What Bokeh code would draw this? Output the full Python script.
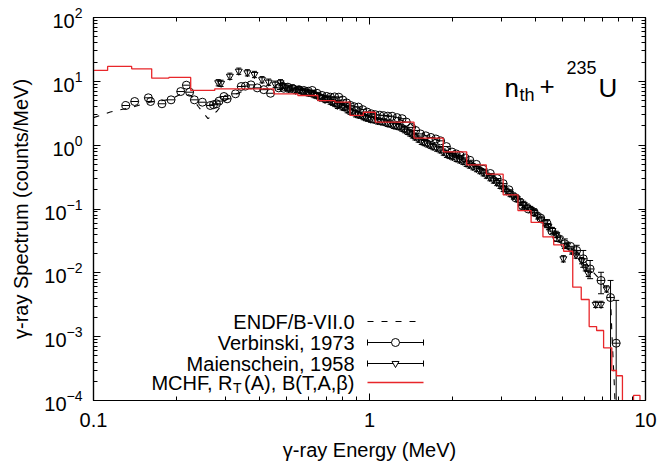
import numpy as np
from bokeh.plotting import figure
from bokeh.models import (Range1d, LinearScale, LogAxis, FixedTicker, Label,
                          CustomJSTickFormatter, LogTickFormatter)
from bokeh.embed import file_html
from bokeh.resources import INLINE

# ---------------- data ----------------
mchf_edges = [0.1, 0.1125, 0.1375, 0.1625, 0.1875, 0.225, 0.275, 0.45, 0.55, 0.65,
              0.75, 0.85, 0.95, 1.05, 1.45, 1.85, 2.25, 2.65, 3.05, 3.45,
              3.85, 4.25, 4.65, 5.05, 5.45, 5.85, 6.25, 6.65, 7.05, 7.55,
              7.85, 8.25, 9.05, 9.55, 10.0]
mchf_vals = [14.8, 17.1, 15.7, 11.2, 11.5, 7.2, 7.63, 6.38, 6.0, 5.0,
             4.71, 2.92, 3.28, 2.29, 1.29, 0.787, 0.49, 0.351, 0.167, 0.0946,
             0.0616, 0.0365, 0.0274, 0.0218, 0.00596, 0.00382, 0.00144, 0.00125, 0.000668, 0.000295,
             0.000244, 0.0, 0.00012, 0.0]

endf_E = [0.1, 0.115, 0.14, 0.16, 0.19, 0.21, 0.225, 0.24, 0.26, 0.28, 0.30, 0.33, 0.37,
          0.45, 0.55, 0.65, 0.75, 0.85, 1.0, 1.2, 1.4, 1.6, 1.8, 2.0, 2.3, 2.6, 2.9,
          3.2, 3.6, 4.0, 4.4, 4.8, 5.1, 5.6, 6.0, 6.3, 6.9, 7.47, 7.55, 7.7, 7.8]
endf_y = [2.7, 3.3, 4.0, 4.7, 5.2, 6.5, 6.0, 4.0, 2.6, 3.4, 5.0, 6.4, 7.8,
          7.5, 7.3, 6.3, 5.6, 4.3, 3.3, 2.8, 2.2, 1.4, 1.15, 0.8, 0.58, 0.42, 0.30,
          0.20, 0.113, 0.080, 0.058, 0.036, 0.029, 0.022, 0.016, 0.0115, 0.0076, 0.0041, 0.0012, 0.0002, 0.00005]

verb_E = [0.131, 0.141, 0.158, 0.161, 0.177, 0.191, 0.207, 0.217, 0.223, 0.232,
          0.248, 0.265, 0.272, 0.279, 0.285, 0.297, 0.305, 0.327, 0.343, 0.355,
          0.372, 0.392, 0.414, 0.438, 0.469, 0.489, 0.506, 0.53, 0.555, 0.578,
          0.60, 0.62, 0.645, 0.673, 0.70, 0.722, 0.748, 0.774, 0.80, 0.826,
          0.852, 0.88, 0.912, 0.945, 0.98, 1.015, 1.05, 1.09, 1.126, 1.165,
          1.208, 1.26, 1.313, 1.36, 1.42, 1.47, 1.53, 1.60, 1.67, 1.74,
          1.81, 1.90, 1.99, 2.06, 2.13, 2.22, 2.31, 2.44, 2.58, 2.74,
          2.90, 3.05, 3.20, 3.38, 3.58, 3.76, 3.95, 4.17, 4.40, 4.58,
          4.77, 5.10, 5.35, 5.63, 5.95, 6.30, 6.90, 7.47, 7.83]
verb_y = [4.18, 4.83, 5.52, 4.83, 4.45, 5.13, 6.92, 8.7, 6.76, 5.13,
          4.71, 4.18, 4.3, 4.45, 4.9, 5.78, 5.32, 6.38, 8.3, 8.4,
          8.8, 7.9, 7.4, 6.5, 7.9, 7.8, 8.1, 7.6, 7.4, 7.2,
          7.0, 7.2, 6.5, 6.0, 5.8, 5.65, 5.7, 5.65, 5.1, 4.6,
          4.2, 4.0, 3.95, 3.6, 3.3, 3.1, 3.0, 2.95, 2.9, 2.85,
          2.84, 2.7, 2.6, 2.3, 1.9, 1.7, 1.5, 1.4, 1.32, 1.25,
          1.17, 0.95, 0.78, 0.73, 0.69, 0.63, 0.58, 0.50, 0.42, 0.36,
          0.30, 0.25, 0.20, 0.15, 0.113, 0.10, 0.089, 0.072, 0.059, 0.045,
          0.036, 0.0285, 0.026, 0.0224, 0.0166, 0.0115, 0.0076, 0.0041, 0.00079]

verb_bar_E = [3.58, 3.95, 4.40, 4.77, 5.10, 5.63, 5.95, 6.30, 6.90, 7.47, 7.83]
verb_bar_lo = [0.100, 0.079, 0.051, 0.031, 0.024, 0.019, 0.0122, 0.0081, 0.0047, 0.0, 0.0]
verb_bar_hi = [0.127, 0.100, 0.068, 0.042, 0.034, 0.027, 0.0224, 0.0156, 0.0102, 0.0076, 0.0037]

maien_E = [0.283, 0.290, 0.312, 0.336, 0.361, 0.383, 0.408, 0.431, 0.455, 0.476, 0.483, 0.497,
           0.51, 0.525, 0.54, 0.555, 0.57, 0.585, 0.60, 0.615, 0.63, 0.645, 0.66, 0.675,
           0.69, 0.705, 0.72, 0.735, 0.75, 0.765, 0.78, 0.795, 0.81, 0.83, 0.85, 0.87,
           0.89, 0.91, 0.93, 0.95, 0.97, 0.99, 1.01, 1.04, 1.07, 1.10, 1.13, 1.16,
           1.19, 1.22, 1.25, 1.28, 1.31, 1.34, 1.37, 1.40, 1.43, 1.46, 1.50, 1.54,
           1.58, 1.62, 1.66, 1.70, 1.75, 1.80, 1.85, 1.90, 1.95, 2.00, 2.06, 2.12,
           2.18, 2.24, 2.30, 2.37, 2.44, 2.51, 2.58, 2.65, 2.73, 2.81, 2.89, 2.97,
           3.05, 3.14, 3.23, 3.32, 3.42, 3.52, 3.62, 3.73, 3.84, 3.95, 4.07, 4.19,
           4.32, 4.45, 4.60, 4.75, 4.90, 5.04, 5.20, 5.40, 5.60, 5.87, 6.05, 6.20,
           6.60, 6.90, 7.23]
maien_y = [9.5, 9.3, 12.0, 14.4, 13.6, 12.8, 10.6, 9.7, 9.0, 9.5, 8.6, 8.1,
           7.6, 7.9, 7.2, 7.4, 6.9, 7.0, 6.6, 6.5, 6.2, 6.0, 5.6, 5.5,
           5.2, 5.3, 4.9, 4.7, 4.5, 4.2, 4.4, 4.0, 3.9, 3.6, 3.4, 3.3,
           3.1, 3.0, 2.95, 2.8, 2.7, 2.65, 2.55, 2.5, 2.4, 2.35, 2.3, 2.2,
           2.15, 2.05, 2.0, 1.95, 1.85, 1.75, 1.65, 1.55, 1.45, 1.35, 1.25, 1.15,
           1.1, 1.05, 1.0, 0.95, 0.9, 0.85, 0.78, 0.72, 0.69, 0.66, 0.62, 0.59,
           0.56, 0.52, 0.49, 0.46, 0.43, 0.40, 0.37, 0.34, 0.31, 0.285, 0.26, 0.235,
           0.21, 0.19, 0.175, 0.16, 0.145, 0.13, 0.118, 0.107, 0.098, 0.088, 0.078, 0.069,
           0.061, 0.053, 0.046, 0.040, 0.034, 0.0166, 0.027, 0.022, 0.019, 0.0155, 0.012, 0.0098,
           0.0032, 0.0032, 0.0056]
maien_rel_err = 1.12

x_major = [0.1, 1, 10]
y_major_exp = [-4, -3, -2, -1, 0, 1, 2]

# ---------------- layout ----------------
FONT = "Liberation Sans"
W, H = 659, 467
FL, FT, FW, FH = 93, 17, 552, 383
BR, BB = W - FL - FW, H - FT - FH
TINY = 1e-9

p = figure(x_axis_type="log", y_axis_type="log",
           x_range=Range1d(0.1, 10), y_range=Range1d(1e-4, 1e2),
           frame_width=FW, frame_height=FH,
           min_border_left=FL, min_border_top=FT, min_border_right=BR, min_border_bottom=BB,
           output_backend="svg", toolbar_location=None)
p.grid.visible = False
p.outline_line_color = "black"
p.outline_line_width = 1.2
p.background_fill_color = "white"
p.border_fill_color = "white"

p.extra_x_ranges = {"px": Range1d(0, FW)}
p.extra_y_ranges = {"px": Range1d(0, FH)}
p.extra_x_scales = {"px": LinearScale()}
p.extra_y_scales = {"px": LinearScale()}

xt = FixedTicker(ticks=x_major,
                 minor_ticks=[m * 10.0 ** d for d in (-1, 0) for m in range(2, 10)])
yt = FixedTicker(ticks=[10.0 ** k for k in y_major_exp],
                 minor_ticks=[m * 10.0 ** d for d in range(-4, 2) for m in range(2, 10)])

bx = p.below[0]
ly = p.left[0]
bx.ticker = xt
ly.ticker = yt
bx.formatter = CustomJSTickFormatter(code="return tick.toString();")
ly.formatter = LogTickFormatter()
top = LogAxis(ticker=xt)
rgt = LogAxis(ticker=yt)
p.add_layout(top, "above")
p.add_layout(rgt, "right")
for ax in (bx, ly, top, rgt):
    ax.major_tick_in = 7
    ax.major_tick_out = 0
    ax.minor_tick_in = 4
    ax.minor_tick_out = 0
    ax.axis_line_color = "black"
    ax.major_tick_line_color = "black"
    ax.minor_tick_line_color = "black"
    ax.axis_line_width = 1.2
    ax.major_label_text_font = FONT
    ax.major_label_text_color = "black"
for ax in (top, rgt):
    ax.major_label_text_font_size = "1px"
    ax.major_label_text_alpha = 0.0
    ax.major_label_standoff = 0
for ax in (bx, ly):
    ax.major_label_text_font_size = "20px"
    ax.axis_label_text_font = FONT
    ax.axis_label_text_font_size = "20px"
    ax.axis_label_text_font_style = "normal"
    ax.axis_label_text_color = "black"
bx.major_label_standoff = 12
bx.axis_label = "γ-ray Energy (MeV)"
bx.axis_label_standoff = 9
ly.major_label_standoff = 11
ly.axis_label = "γ-ray Spectrum (counts/MeV)"
ly.axis_label_standoff = 9

# ---------------- data marks ----------------
p.line(endf_E, endf_y, line_color="black", line_dash="6 8", line_width=1.1)

vlo = [v if v > 0 else TINY for v in verb_bar_lo]
p.segment(x0=verb_bar_E, y0=vlo, x1=verb_bar_E, y1=verb_bar_hi, line_color="black", line_width=1)
p.scatter(verb_bar_E, vlo, marker="dash", size=6, line_color="black", line_width=1)
p.scatter(verb_bar_E, verb_bar_hi, marker="dash", size=6, line_color="black", line_width=1)
p.scatter(verb_E, verb_y, marker="dash", size=8, line_color="black", line_width=1)
p.scatter(verb_E, verb_y, marker="circle", size=8, line_color="black", fill_color=None, line_width=1)

m_lo = [v / maien_rel_err for v in maien_y]
m_hi = [v * maien_rel_err for v in maien_y]
p.segment(x0=maien_E, y0=m_lo, x1=maien_E, y1=m_hi, line_color="black", line_width=1)
p.scatter(maien_E, m_hi, marker="dash", size=5, line_color="black", line_width=1)
p.scatter(maien_E, m_lo, marker="dash", size=5, line_color="black", line_width=1)
p.scatter(maien_E, maien_y, marker="inverted_triangle", size=7, line_color="black",
          fill_color=None, line_width=1)

step_y = [v if v > 0 else TINY for v in mchf_vals] + [mchf_vals[-1] if mchf_vals[-1] > 0 else TINY]
p.step(mchf_edges, step_y, mode="after", line_color="#e8262a", line_width=1.3)

# ---------------- texts inside the frame ----------------
def lab(text, x, y, size="20px", align="left", **kw):
    p.add_layout(Label(x=x, y=y, text=text, text_font=FONT, text_font_size=size,
                       text_align=align, text_baseline="middle", text_color="black",
                       x_range_name="px", y_range_name="px", **kw))

# reaction annotation n_th + 235U
lab("n", 411, FH - 70, size="26px")
lab("th", 426, FH - 77, size="18px")
lab("+", 446, FH - 68, size="26px")
lab("235", 473, FH - 50, size="18px")
lab("U", 505, FH - 70, size="26px")

# legend
TX = 261
lab("ENDF/B-VII.0", TX, 79, align="right")
lab("Verbinski, 1973", TX, 58, align="right")
lab("Maienschein, 1958", TX, 37, align="right")
lab("(A), B(T,A,β)", TX, 18, align="right")
lab("T", TX - 113, 13, size="14px", align="right")
lab("MCHF, R", TX - 122, 18, align="right")

SX0, SX1, SXM = 274, 330, 302
pr = dict(x_range_name="px", y_range_name="px")
p.line([SX0, SX1], [79, 79], line_color="black", line_dash="6 8", line_width=1.1, **pr)
for yy, mk, sz in ((58, "circle", 8), (37, "inverted_triangle", 7)):
    p.line([SX0, SX1], [yy, yy], line_color="black", line_width=1, **pr)
    p.segment(x0=[SX0, SX1], y0=[yy - 3, yy - 3], x1=[SX0, SX1], y1=[yy + 3, yy + 3],
              line_color="black", line_width=1, **pr)
    p.scatter([SXM], [yy], marker=mk, size=sz, line_color="black", fill_color="white",
              line_width=1, **pr)
p.line([SX0, SX1], [18, 18], line_color="#e8262a", line_width=1.3, **pr)

open("out.html", "w").write(file_html(p, INLINE))
